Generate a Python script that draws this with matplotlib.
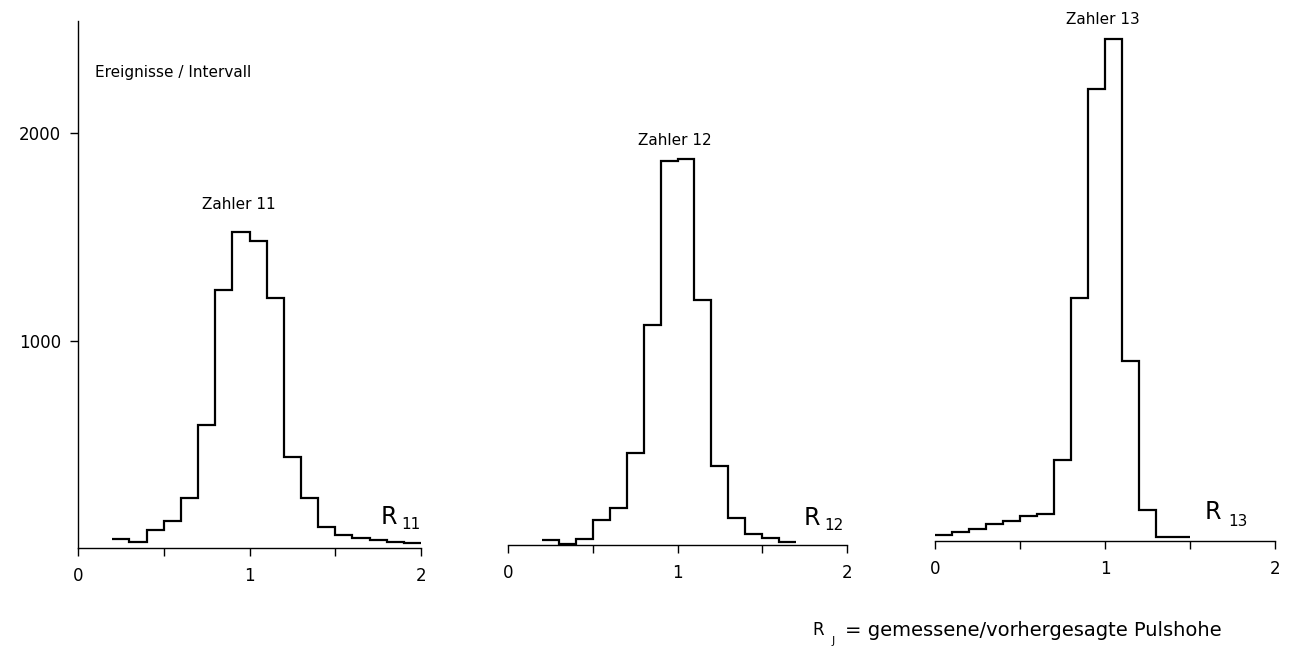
import matplotlib
matplotlib.use("Agg")
import matplotlib.pyplot as plt
import numpy as np

# Ereignisse pro Intervall (Bin-Breite 0.1) fuer die drei Zaehler
edges_11 = np.round(np.arange(0.2, 2.01, 0.1), 2)
counts_11 = [45, 30, 88, 128, 240, 595, 1243, 1523, 1480, 1205, 440, 243, 99, 62, 46, 37, 28, 26]

edges_12 = np.round(np.arange(0.2, 1.71, 0.1), 2)
counts_12 = [22, 7, 27, 119, 180, 445, 1059, 1851, 1859, 1180, 381, 132, 51, 35, 16]

edges_13 = np.round(np.arange(0.0, 1.51, 0.1), 2)
counts_13 = [31, 42, 59, 83, 98, 120, 129, 391, 1172, 2178, 2418, 868, 148, 19, 19]

names = ["Zahler 11", "Zahler 12", "Zahler 13"]
subs = ["11", "12", "13"]
x_ticks = [0, 1, 2]
x_ticklabels = ["0", "1", "2"]
y_ticks = [1000, 2000]
y_ticklabels = ["1000", "2000"]

W, H = 1293, 647
fig = plt.figure(figsize=(W / 100, H / 100), dpi=100)
plt.rcParams['font.family'] = ['DejaVu Sans']

# (linker Rand px, Grundlinie px, Breite px)
boxes = [(78, 548, 343), (508, 545, 339), (935, 541, 340)]
top_val = 2540
px_per_unit = 0.2075
height_px = top_val * px_per_unit

data = [(edges_11, counts_11), (edges_12, counts_12), (edges_13, counts_13)]
name_pos = [(0.94, 1655), (0.985, 1950), (0.99, 2512)]
r_pos = [(1.81, 150, 1.94, 112), (1.79, 132, 1.92, 92), (1.635, 140, 1.78, 96)]

axes = []
for i, (left, base, width) in enumerate(boxes):
    ax = fig.add_axes([left / W, (H - base) / H, width / W, height_px / H])
    e, c = data[i]
    ax.stairs(c, e, baseline=None, color='black', lw=1.6)
    ax.set_xlim(0, 2)
    ax.set_ylim(0, top_val)
    for s in ['top', 'right']:
        ax.spines[s].set_visible(False)
    ax.spines['bottom'].set_linewidth(1.0)
    ax.set_xticks(x_ticks)
    ax.set_xticklabels(x_ticklabels)
    ax.set_xticks([0.5, 1.5], minor=True)
    ax.tick_params(axis='x', which='both', direction='out', length=6, width=1.0,
                   pad=8, labelsize=12)
    if i == 0:
        ax.spines['left'].set_linewidth(1.0)
        ax.set_yticks(y_ticks)
        ax.set_yticklabels(y_ticklabels)
        ax.tick_params(axis='y', direction='out', length=6, width=1.0, pad=6, labelsize=12)
        ax.text(0.1, 2290, "Ereignisse / Intervall", fontsize=11, ha='left', va='center')
    else:
        ax.spines['left'].set_visible(False)
        ax.set_yticks([])
    ax.patch.set_alpha(0)
    nx, ny = name_pos[i]
    ax.text(nx, ny, names[i], fontsize=11, ha='center', va='center')
    rx, ry, sx, sy = r_pos[i]
    ax.text(rx, ry, "R", fontsize=17, ha='center', va='center')
    ax.text(sx, sy, subs[i], fontsize=11, ha='center', va='center')
    axes.append(ax)

fig.text(818 / W, 1 - 630 / H, "R", fontsize=12, ha='center', va='center')
fig.text(833 / W, 1 - 641 / H, "J", fontsize=8, ha='center', va='center')
fig.text(845 / W, 1 - 630 / H, "= gemessene/vorhergesagte Pulshohe", fontsize=14,
         ha='left', va='center')

fig.savefig("out.png", dpi=100)
